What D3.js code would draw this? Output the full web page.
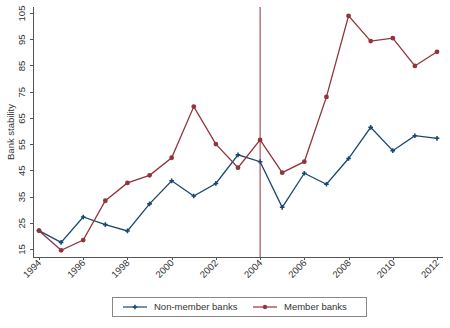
<!DOCTYPE html>
<meta charset="utf-8">
<html lang="en">
<head>
    <title>Bank stability</title>
    <script src="https://d3js.org/d3.v7.min.js"></script>
    <style>
        body { margin: 0; background: #fff; }
        svg text { font-family: "Liberation Sans", Arial, sans-serif; fill: #333; }
        .axis path, .axis line { stroke: #555; stroke-width: 1; shape-rendering: crispEdges; }
    </style>
</head>
<body>
    <svg width="450" height="328"></svg>
    <script>
        // Years and series
        var years = [1994, 1995, 1996, 1997, 1998, 1999, 2000, 2001, 2002, 2003,
                     2004, 2005, 2006, 2007, 2008, 2009, 2010, 2011, 2012];
        var nonMember = [22, 17.5, 27.2, 24.3, 21.9, 32.2, 41, 35.2, 40, 50.9,
                         48.3, 30.9, 43.9, 39.7, 49.5, 61.4, 52.5, 58.2, 57.2];
        var member = [22, 14.5, 18.4, 33.4, 40.2, 43.1, 49.8, 69.3, 55, 46,
                      56.6, 44.1, 48.3, 73, 103.9, 94.3, 95.4, 84.8, 90.2];
        var xTicks = [1994, 1996, 1998, 2000, 2002, 2004, 2006, 2008, 2010, 2012];
        var yTicks = [15, 25, 35, 45, 55, 65, 75, 85, 95, 105];
        var markYear = 2004;

        var navy = "#1a476f", maroon = "#90353b";

        var svg = d3.select("svg");
        var x = d3.scaleLinear().domain([1994, 2012]).range([39, 437]);
        var y = d3.scaleLinear().domain([15, 105]).range([249, 13]);
        var plotLeft = 33, plotBottom = 257, plotTop = 7, plotRight = 443;

        // Y axis
        var gy = svg.append("g")
            .attr("class", "axis")
            .attr("transform", "translate(" + plotLeft + ",0)")
            .call(d3.axisLeft(y).tickValues(yTicks).tickSize(3).tickSizeOuter(0));
        gy.select(".domain").attr("d", "M0," + plotTop + "V" + plotBottom);
        gy.selectAll(".tick text")
            .attr("transform", "translate(-11,0)rotate(-90)")
            .attr("x", 0).attr("y", 0).attr("dy", "0.35em")
            .style("text-anchor", "middle")
            .style("font-size", "9.5px");

        // X axis
        var gx = svg.append("g")
            .attr("class", "axis")
            .attr("transform", "translate(0," + plotBottom + ")")
            .call(d3.axisBottom(x).tickValues(xTicks).tickFormat(d3.format("d")).tickSize(3).tickSizeOuter(0));
        gx.select(".domain").attr("d", "M" + plotLeft + ",0H" + plotRight);
        gx.selectAll("text")
            .attr("transform", "rotate(-45)")
            .attr("x", -3).attr("y", 3).attr("dy", "0.35em")
            .style("text-anchor", "end")
            .style("font-size", "9.5px");

        // Y axis title
        svg.append("text")
            .attr("transform", "translate(11," + ((plotTop + plotBottom) / 2) + ")rotate(-90)")
            .attr("dy", "0.35em")
            .style("text-anchor", "middle")
            .style("font-size", "9.5px")
            .text("Bank stability");

        // Reference line at 2004
        svg.append("line")
            .attr("x1", x(markYear)).attr("x2", x(markYear))
            .attr("y1", plotTop).attr("y2", plotBottom)
            .attr("stroke", maroon).attr("stroke-width", 1);

        var line = d3.line()
            .x(function(d) { return x(d[0]); })
            .y(function(d) { return y(d[1]); });

        var nmData = years.map(function(yr, i) { return [yr, nonMember[i]]; });
        var mData = years.map(function(yr, i) { return [yr, member[i]]; });

        svg.append("path").datum(nmData)
            .attr("fill", "none").attr("stroke", navy).attr("stroke-width", 1.3)
            .attr("d", line);
        svg.append("path").datum(mData)
            .attr("fill", "none").attr("stroke", maroon).attr("stroke-width", 1.3)
            .attr("d", line);

        // Plus markers
        var plus = d3.symbol().type(d3.symbolCross).size(12);
        svg.selectAll(".nm")
            .data(nmData)
            .enter().append("path")
            .attr("class", "nm")
            .attr("transform", function(d) { return "translate(" + x(d[0]) + "," + y(d[1]) + ")"; })
            .attr("d", plus)
            .attr("fill", navy);

        svg.selectAll(".m")
            .data(mData)
            .enter().append("circle")
            .attr("class", "m")
            .attr("cx", function(d) { return x(d[0]); })
            .attr("cy", function(d) { return y(d[1]); })
            .attr("r", 2.4)
            .attr("fill", maroon);

        // Legend
        var lg = svg.append("g");
        lg.append("rect")
            .attr("x", 112.5).attr("y", 297.5).attr("width", 254).attr("height", 19)
            .attr("fill", "#fff").attr("stroke", "#888").attr("stroke-width", 1);
        var entries = [
            { name: "Non-member banks", color: navy, x: 123, mark: "plus" },
            { name: "Member banks", color: maroon, x: 253, mark: "dot" }
        ];
        entries.forEach(function(e) {
            lg.append("line")
                .attr("x1", e.x).attr("x2", e.x + 24)
                .attr("y1", 307).attr("y2", 307)
                .attr("stroke", e.color).attr("stroke-width", 1.2);
            if (e.mark === "plus") {
                lg.append("path")
                    .attr("transform", "translate(" + (e.x + 12) + ",307)")
                    .attr("d", plus).attr("fill", e.color);
            } else {
                lg.append("circle")
                    .attr("cx", e.x + 12).attr("cy", 307).attr("r", 2.2)
                    .attr("fill", e.color);
            }
            lg.append("text")
                .attr("x", e.x + 31).attr("y", 307).attr("dy", "0.35em")
                .style("font-size", "9.5px")
                .text(e.name);
        });
    </script>
</body>
</html>
